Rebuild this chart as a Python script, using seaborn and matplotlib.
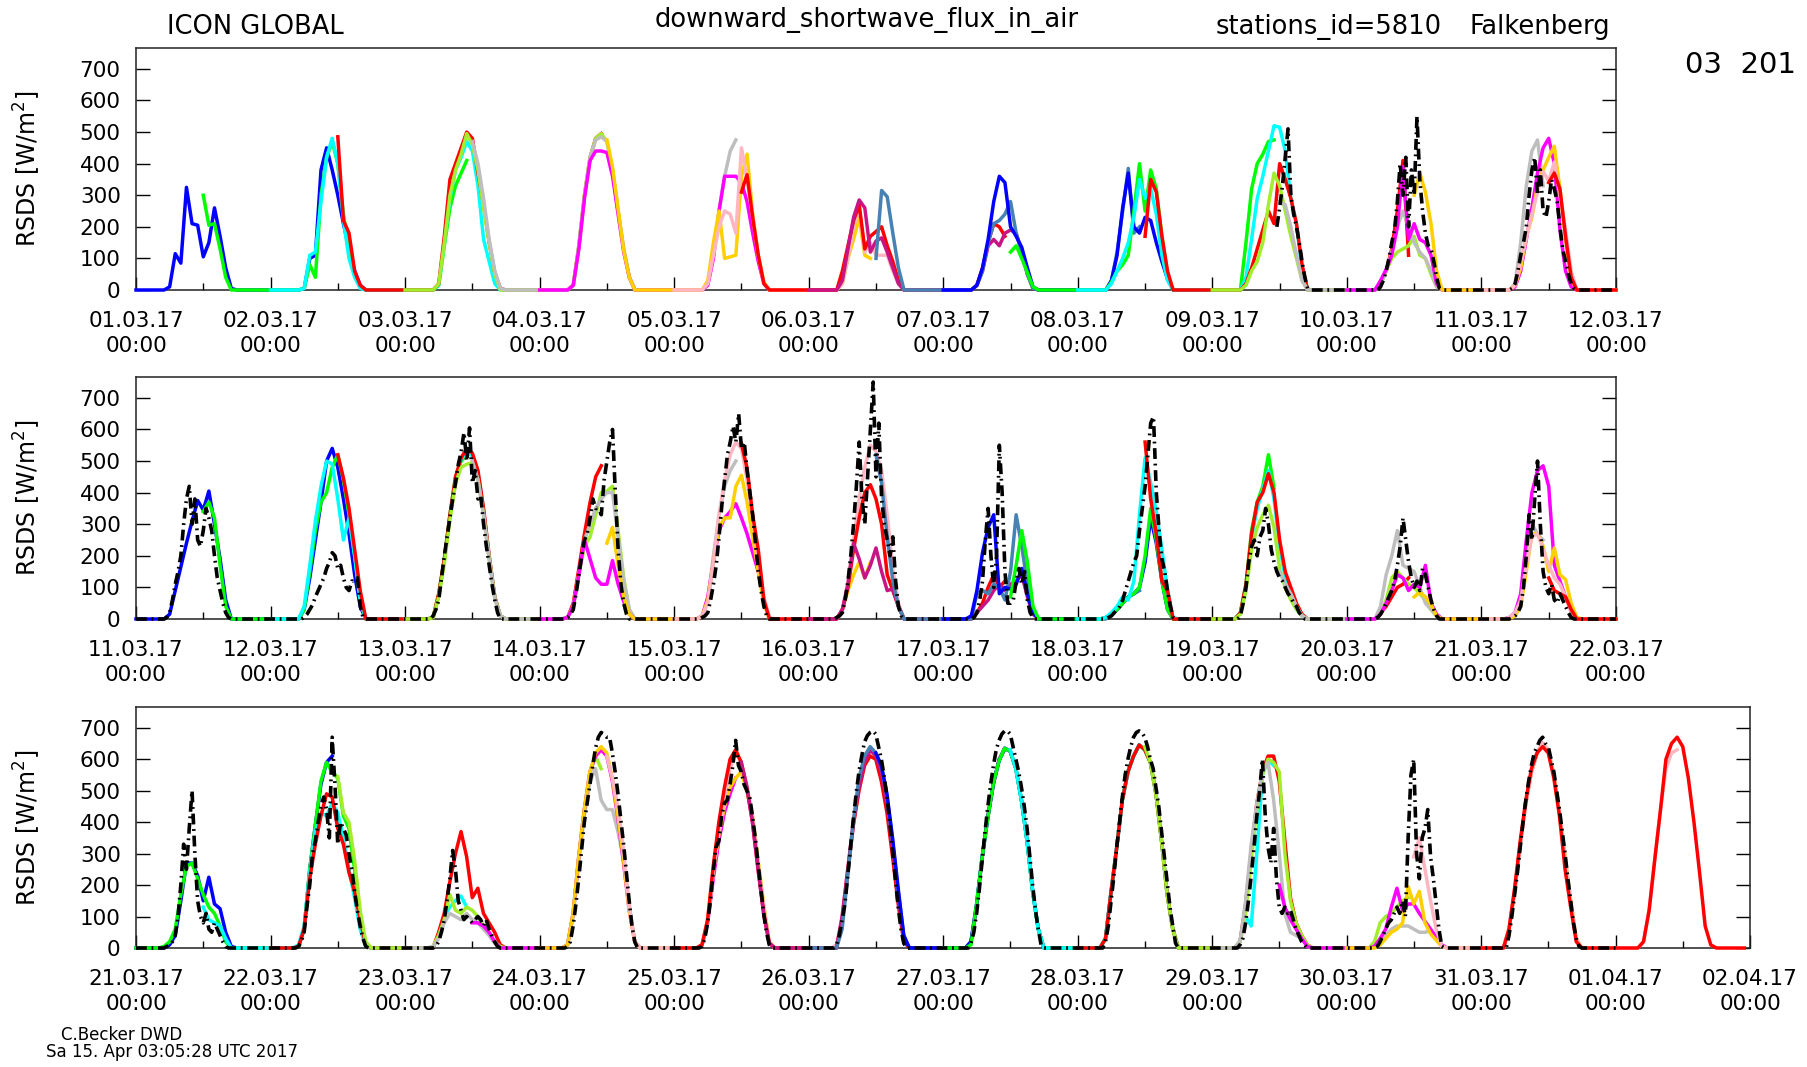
import numpy as np
import pandas as pd
import matplotlib
matplotlib.use("Agg")
import matplotlib.pyplot as plt
import matplotlib.dates as mdates
import seaborn as sns

W, H = 1807, 1067

# ---------------------------------------------------------------------------
# Forecast runs (ICON global), hourly RSDS in W/m2, daylight hours only.
# key = mmdd_HH (init).  00 UTC runs: day1 05-18 UTC (14), day2 05-18 UTC (14)
# 12 UTC runs: day1 12-18 (7), day2 05-18 (14), day3 05-11 (7)
# ---------------------------------------------------------------------------
r0301_00 = [0,10,115,85,325,210,205,105,150,260,170,70,5,0,  0,5,100,110,380,450,380,300,210,130,60,15,0,0]
r0301_12 = [300,205,210,130,40,0,0,  0,5,80,40,300,420,470,400,240,120,50,10,0,0,  0,15,140,260,330,370,410]
r0302_00 = [0,5,110,120,280,420,480,400,220,100,40,5,0,0,  0,15,150,290,380,420,470,440,330,160,90,20,0,0]
r0302_12 = [485,220,180,60,15,0,0,  0,20,170,350,400,450,500,480,370,270,150,55,5,0,  0,15,140,300,420,480,495]
r0303_00 = [0,20,150,300,380,430,495,460,380,260,150,50,0,0,  0,15,140,300,420,480,495,470,380,250,130,40,0,0]
r0303_12 = [470,400,290,160,60,5,0,  0,15,140,300,420,475,485,470,380,250,130,40,0,0,  0,20,110,250,360,440,475]
r0304_00 = [0,15,130,290,410,440,440,435,360,240,120,40,0,0,  0,15,100,250,360,360,360,340,280,180,90,20,0,0]
r0304_12 = [475,390,255,125,40,0,0,  0,30,150,250,100,105,110,360,430,240,110,25,0,0,  0,20,100,160,230,110,100]
r0305_00 = [0,20,110,200,250,240,180,450,350,230,110,20,0,0,  0,20,100,200,260,120,150,110,110,110,60,20,0,0]
r0305_12 = [310,365,230,110,20,0,0,  0,60,140,220,270,130,170,185,200,140,90,30,0,0,  0,15,70,150,210,200,170]
r0306_00 = [0,30,130,230,285,260,120,155,165,120,70,20,0,0,  0,15,60,140,160,140,180,190,180,120,50,5,0,0]
r0306_12 = [100,315,295,180,70,0,0,  0,15,60,150,210,220,240,280,180,120,50,5,0,0,  0,30,120,250,385,180,200]
r0307_00 = [0,15,70,160,280,360,340,200,170,135,70,10,0,0,  0,30,110,260,370,200,180,230,220,150,90,35,0,0]
r0307_12 = [120,140,100,55,10,0,0,  0,25,60,80,110,250,400,250,380,320,170,50,0,0,  0,150,320,400,430,470,475]
r0308_00 = [0,20,60,100,150,230,350,290,320,240,110,30,0,0,  0,40,160,290,360,440,520,515,440,290,210,60,0,0]
r0308_12 = [170,350,310,170,60,0,0,  0,20,70,130,190,250,210,400,350,290,210,80,0,0,  0,20,60,130,250,410,110]
r0309_00 = [0,15,60,90,150,270,370,330,250,170,100,30,0,0,  0,20,60,100,120,130,140,170,110,100,50,10,0,0]
r0309_12 = [280,270,200,110,30,0,0,  0,20,60,120,200,250,200,150,120,100,60,10,0,0,  0,20,150,330,440,475,330]
r0310_00 = [0,30,65,110,200,390,160,210,160,150,110,20,0,0,  0,10,60,160,260,370,450,480,400,190,60,10,0,0]
r0310_12 = [300,370,310,210,60,0,0,  0,15,70,170,230,330,380,420,455,320,160,40,0,0,  0,30,130,260,380,470,510]
r0311_00 = [0,15,90,165,240,310,375,345,405,300,190,60,0,0,  0,30,130,250,370,500,540,480,380,270,140,40,0,0]
r0311_12 = [340,370,320,170,40,0,0,  0,30,150,280,370,400,480,520,440,330,200,60,0,0,  5,80,190,330,450,500,520]
r0312_00 = [0,40,170,310,420,500,490,380,250,320,200,55,0,0,  5,75,185,325,445,505,530,515,465,345,200,70,10,0]
r0312_12 = [520,446,350,220,90,0,0,  5,80,190,330,450,510,540,525,470,350,200,70,10,0,  5,50,160,270,370,450,485]
r0313_00 = [5,70,175,315,430,480,490,495,440,330,190,65,10,0,  5,40,140,230,260,330,400,405,420,280,130,30,0,0]
r0313_12 = [500,440,330,190,65,10,0,  5,40,140,250,300,350,380,400,400,260,120,30,0,0,  10,60,200,330,420,470,500]
r0314_00 = [5,40,140,250,190,130,110,110,185,110,55,15,0,0,  10,70,180,280,320,340,365,320,270,210,150,60,0,0]
r0314_12 = [240,290,170,70,15,0,0,  10,60,180,290,320,320,420,455,370,260,150,50,0,0,  0,30,90,140,180,130,180]
r0315_00 = [10,50,180,330,440,520,560,540,440,320,190,70,5,0,  0,30,120,250,380,480,550,530,470,330,160,50,0,0]
r0315_12 = [555,478,330,220,60,0,0,  0,30,100,220,320,400,425,380,300,140,90,40,0,0,  0,20,50,100,140,100,120]
r0316_00 = [0,30,110,240,190,130,170,225,150,90,95,40,0,0,  0,20,40,60,90,110,90,110,120,140,70,15,0,0]
r0316_12 = [520,430,260,120,40,0,0,  0,80,90,80,110,100,60,150,330,230,110,20,0,0,  0,15,30,50,70,80,90]
r0317_00 = [10,90,210,290,330,80,100,95,110,160,80,20,0,0,  5,15,30,50,70,80,100,180,320,240,120,30,0,0]
r0317_12 = [70,170,280,180,40,0,0,  5,15,30,50,70,80,100,200,350,250,120,30,0,0,  20,110,280,370,420,520,414]
r0318_00 = [5,20,40,70,60,120,330,510,430,340,220,90,5,0,  20,100,260,350,410,470,380,230,130,70,30,10,0,0]
r0318_12 = [560,380,270,120,90,0,0,  20,110,270,370,400,460,400,250,150,100,50,15,0,0,  0,20,40,70,100,110,130]
r0319_00 = [15,90,220,290,330,360,290,160,100,60,30,10,0,0,  0,20,60,130,150,130,110,100,80,60,30,10,0,0]
r0319_12 = [150,110,80,40,10,0,0,  0,40,140,200,280,170,160,150,100,50,30,10,0,0,  5,20,60,220,300,270,250]
r0320_00 = [0,15,50,90,140,130,90,110,100,170,50,15,0,0,  5,20,80,250,400,470,485,420,170,120,70,30,0,0]
r0320_12 = [70,85,70,45,10,0,0,  0,10,40,150,270,270,230,150,225,140,125,50,5,0,  5,60,250,390,520,590,610]
r0321_00 = [5,20,60,170,260,270,220,170,130,110,70,20,0,0,  5,60,250,390,530,590,560,540,420,380,250,100,10,0]
r0321_12 = [130,90,80,70,30,0,0,  10,70,240,370,430,420,460,430,350,250,160,60,5,0,  0,40,100,130,150,165,130]
r0322_00 = [5,60,220,330,420,490,480,380,330,240,180,90,10,0,  0,50,110,210,300,370,290,160,190,110,80,50,10,0]
r0322_12 = [545,430,400,280,120,20,0,  5,40,90,170,120,110,130,120,100,70,50,20,5,0,  10,110,290,440,560,610,570]
r0323_00 = [5,30,80,110,100,90,110,90,80,60,40,15,0,0,  10,100,270,420,530,570,470,440,440,370,280,140,20,0]
r0323_12 = [80,80,70,50,20,0,0,  10,110,290,440,560,610,630,610,530,410,270,120,20,0,  10,80,220,340,430,490,540]
r0324_00 = [10,110,290,440,560,620,640,620,540,420,280,120,20,0,  10,90,240,360,450,510,540,560,500,420,280,140,20,0]
r0324_12 = [610,540,450,310,130,20,0,  10,90,240,370,470,570,620,590,520,420,270,130,20,0,  10,100,250,390,500,580,620]
r0325_00 = [10,90,260,400,510,600,630,590,510,400,250,110,15,0,  0,90,240,390,500,580,610,600,530,430,290,140,20,0]
r0325_12 = [590,510,400,250,110,15,0,  0,100,250,400,510,590,630,610,560,460,320,170,30,0,  20,130,290,420,520,600,630]
r0326_00 = [0,60,230,400,540,610,640,620,580,480,340,180,40,0,  20,140,290,415,525,595,635,625,570,470,340,180,60,0]
r0326_12 = [620,580,490,350,190,40,0,  20,140,290,415,525,595,635,625,570,470,340,180,60,0,  30,180,320,470,560,610,645]
r0327_00 = [10,140,290,415,525,595,635,625,570,470,340,180,60,0,  30,180,320,470,560,610,645,630,590,490,340,170,60,0]
r0327_12 = [630,570,470,340,180,60,0,  30,180,320,470,560,610,645,630,590,490,340,170,60,0,  20,100,70,300,550,600,580]
r0328_00 = [30,180,320,470,560,610,645,630,590,490,340,170,60,0,  20,140,310,460,560,610,610,530,340,160,80,40,10,0]
r0328_12 = [640,590,490,340,170,60,0,  20,110,280,440,550,600,590,560,300,150,80,40,10,0,  20,80,100,110,130,150,160]
r0329_00 = [20,150,330,460,560,590,470,300,110,50,40,30,5,0,  5,20,40,60,70,70,70,60,50,50,55,30,5,0]
r0329_12 = [200,130,90,60,30,5,0,  5,30,60,130,190,120,140,140,110,85,60,35,10,0,  60,180,330,460,560,620,650]
r0330_00 = [0,10,30,50,60,80,195,140,180,80,45,25,5,0,  60,180,330,460,560,620,650,630,550,430,290,150,30,0]
r0330_12 = [290,350,250,150,60,5,0,  60,180,330,460,560,620,650,630,550,430,290,150,30,0,  20,120,280,435,570,620,630]
r0331_00 = [60,190,340,470,570,620,640,620,540,420,250,130,20,0,  20,120,280,435,600,650,670,640,540,400,240,70,10,0]

# ---------------------------------------------------------------------------
# Station observations (Falkenberg), half-hourly 05:00 .. 18:30 UTC
# ---------------------------------------------------------------------------
obs_0309 = [None,None,None,None,None,None,None,None,None,None,None,None,None,200,260,330,420,510,300,240,200,150,90,40,5,0,0,0]
obs_0310 = [0,0,10,30,60,100,150,190,280,400,300,420,200,380,300,550,350,250,180,140,130,90,40,5,0,0,0,0]
obs_0311 = [0,5,20,60,110,150,200,300,380,420,300,380,250,230,280,350,320,280,200,130,90,50,20,5,0,0,0,0]
obs_0312 = [0,0,5,15,30,45,70,90,110,130,160,180,210,200,160,170,130,100,90,120,120,130,40,5,0,0,0,0]
obs_0313 = [10,30,60,130,200,260,320,380,430,490,530,590,500,605,430,470,380,390,300,230,170,110,60,20,0,0,0,0]
obs_0314 = [5,15,30,80,140,200,250,270,320,380,350,350,330,440,500,560,600,400,220,110,50,15,0,0,0,0,0,0]
obs_0315 = [5,10,20,60,110,170,260,360,440,520,560,610,560,650,540,560,470,400,330,240,150,90,40,10,0,0,0,0]
obs_0316 = [5,10,20,60,120,200,300,420,560,380,300,450,600,750,450,620,380,300,250,200,260,120,40,10,0,0,0,0]
obs_0317 = [0,5,20,60,120,250,350,200,100,200,550,400,150,50,50,60,120,160,110,150,60,20,5,0,0,0,0,0]
obs_0318 = [0,5,10,20,30,40,60,90,120,150,180,200,280,350,420,520,620,640,400,280,190,150,90,40,5,0,0,0]
obs_0319 = [10,50,100,180,230,250,200,260,280,350,300,220,180,150,130,120,100,80,70,50,40,20,10,0,0,0,0,0]
obs_0320 = [0,5,15,30,50,70,90,120,170,230,320,250,180,130,100,120,90,160,140,100,60,30,10,0,0,0,0,0]
obs_0321 = [0,5,10,20,40,100,200,330,250,380,500,300,150,100,80,110,60,50,80,60,40,20,5,0,0,0,0,0]
obs_0322 = [5,20,50,130,200,300,340,400,450,480,440,350,670,520,330,400,380,360,300,250,180,120,70,30,5,0,0,0]
obs_0323 = [0,5,20,50,90,150,220,310,250,150,120,90,100,90,80,90,100,90,70,90,60,40,20,5,0,0,0,0]
obs_0324 = [5,20,70,140,220,310,400,460,520,580,635,670,685,680,670,670,620,560,490,410,330,240,150,70,20,0,0,0]
obs_0325 = [5,30,80,150,240,320,340,420,460,470,520,580,660,580,560,520,500,480,420,350,270,190,110,50,10,0,0,0]
obs_0326 = [10,40,90,140,230,320,410,490,560,610,655,675,685,690,680,640,600,545,480,400,310,220,130,60,15,0,0,0]
obs_0327 = [15,50,110,190,280,370,450,520,580,630,660,680,690,690,680,640,600,560,510,450,380,290,200,120,60,10,0,0]
obs_0328 = [20,70,150,230,320,400,480,550,600,640,670,685,690,685,670,640,600,570,510,450,370,290,210,130,70,15,0,0]
obs_0329 = [10,30,80,150,230,320,420,500,600,420,320,270,380,220,130,110,130,110,120,90,60,40,20,10,0,0,0,0]
obs_0330 = [0,5,20,40,60,80,90,110,130,110,150,100,350,550,600,300,220,350,380,440,290,220,140,60,5,0,0,0]
obs_0331 = [40,100,170,240,320,400,470,530,580,620,640,660,670,650,640,600,560,500,440,370,300,220,150,80,30,5,0,0]

RUN_COLORS = ["#0000ff", "#00ff00", "#00ffff", "#ff0000", "#a2ee2c", "#bebebe",
              "#ff00ff", "#ffd000", "#ffb6c1", "#ff0000", "#c71585", "#4682b4"]

PANEL_RANGES = [("2017-03-01", "2017-03-12", "2017-03-01 00:00", "2017-03-11 12:00"),
                ("2017-03-11", "2017-03-22", "2017-03-11 00:00", "2017-03-21 12:00"),
                ("2017-03-21", "2017-04-02", "2017-03-20 12:00", "2017-03-31 00:00")]


def run_key(ts):
    return "%02d%02d_%02d" % (ts.month, ts.day, ts.hour)


def forecast_frame(key):
    vals = globals()["r" + key]
    assert len(vals) == 28, key
    m, d, hh = int(key[:2]), int(key[2:4]), int(key[5:7])
    d0 = pd.Timestamp(2017, m, d)
    hours = np.arange(hh, hh + 48)
    v = np.zeros(48)
    segs = [(5, vals[0:14]), (29, vals[14:28])] if hh == 0 else \
           [(12, vals[0:7]), (29, vals[7:21]), (53, vals[21:28])]
    for h0, seg in segs:
        for i, x in enumerate(seg):
            v[h0 + i - hh] = x
    return pd.DataFrame({"time": d0 + pd.to_timedelta(hours, unit="h"),
                         "value": v, "run": key})


# observation series (night = 0)
t_obs0 = pd.Timestamp("2017-03-09 11:30")
t_obs1 = pd.Timestamp("2017-04-01 00:00")
obs_grid = pd.date_range(t_obs0, t_obs1, freq="30min")
obs_s = pd.Series(0.0, index=obs_grid)
for day in pd.date_range("2017-03-09", "2017-03-31", freq="D"):
    vals = globals()["obs_%02d%02d" % (day.month, day.day)]
    assert len(vals) == 28
    for i, x in enumerate(vals):
        t = day + pd.Timedelta(hours=5) + i * pd.Timedelta(minutes=30)
        if x is not None and t in obs_s.index:
            obs_s[t] = x
obs_df = pd.DataFrame({"time": obs_s.index, "value": obs_s.values})

plt.rcParams["font.family"] = ["DejaVu Sans"]
fig = plt.figure(figsize=(W / 100, H / 100), dpi=100)

rects = [[136 / W, 1 - 290 / H, 1480 / W, 242 / H],
         [136 / W, 1 - 619 / H, 1480 / W, 242 / H],
         [136 / W, 1 - 948 / H, 1614 / W, 241 / H]]

for rect, (x0, x1, i0, i1) in zip(rects, PANEL_RANGES):
    ax = fig.add_axes(rect)
    x0, x1 = pd.Timestamp(x0), pd.Timestamp(x1)
    inits = pd.date_range(i0, i1, freq="12h")
    keys = [run_key(t) for t in inits]
    fc = pd.concat([forecast_frame(k) for k in keys], ignore_index=True)
    fc = fc[(fc.time >= x0) & (fc.time <= x1)]
    pal = {k: RUN_COLORS[i % 12] for i, k in enumerate(keys)}
    sns.lineplot(data=fc, x="time", y="value", hue="run", hue_order=keys,
                 palette=pal, estimator=None, legend=False, linewidth=2.5, ax=ax)
    ob = obs_df[(obs_df.time >= x0) & (obs_df.time <= x1)]
    n_before = len(ax.lines)
    if len(ob):
        sns.lineplot(data=ob, x="time", y="value", color="black",
                     estimator=None, linewidth=2.6, ax=ax)
    for i, ln in enumerate(ax.lines):
        ln.set_clip_on(False)
        ln.set_zorder(3)
        if i >= n_before:
            ln.set_zorder(4)
            ln.set_dashes([3.0, 1.3, 0.5, 1.3])

    ax.set_xlim(x0, x1)
    ax.set_ylim(0, 766)
    ax.set_yticks(range(0, 800, 100))
    ax.xaxis.set_major_locator(mdates.DayLocator())
    ax.xaxis.set_minor_locator(mdates.HourLocator(byhour=[12]))
    ax.xaxis.set_major_formatter(mdates.DateFormatter("%d.%m.%y\n%H:%M"))
    ax.tick_params(axis="x", which="major", direction="in", length=9.5,
                   width=1, pad=15, labelsize=15.5, top=False)
    ax.tick_params(axis="x", which="minor", direction="in", length=5,
                   width=1, top=False)
    ax.tick_params(axis="y", direction="in", length=10, width=1, pad=11,
                   labelsize=15.5, left=True, right=True)
    for lab in ax.get_xticklabels():
        lab.set_linespacing(1.32)
    ax.set_xlabel("")
    ax.set_ylabel("")
    for sp in ax.spines.values():
        sp.set_linewidth(1.1)
        sp.set_color("#222222")
    ax.set_facecolor("white")
    yc = rect[1] + rect[3] / 2
    fig.text(27 / W, yc, "RSDS [W/m$^2$]", rotation=90, ha="center",
             va="center", fontsize=17)

fig.text(167 / W, 1 - 27 / H, "ICON GLOBAL", ha="left", va="center", fontsize=18.5)
fig.text(867 / W, 1 - 20 / H, "downward_shortwave_flux_in_air", ha="center",
         va="center", fontsize=18.5)
fig.text(1216 / W, 1 - 27 / H, "stations_id=5810", ha="left", va="center", fontsize=18.5)
fig.text(1469 / W, 1 - 27 / H, "Falkenberg", ha="left", va="center", fontsize=18.5)
fig.text(1685 / W, 1 - 65 / H, "03  201", ha="left", va="center", fontsize=21)
fig.text(61 / W, 1 - 1035 / H, "C.Becker DWD", ha="left", va="center", fontsize=12)
fig.text(46 / W, 1 - 1052 / H, "Sa 15. Apr 03:05:28 UTC 2017", ha="left",
         va="center", fontsize=12)

fig.savefig("out.png", dpi=100, facecolor="white")
